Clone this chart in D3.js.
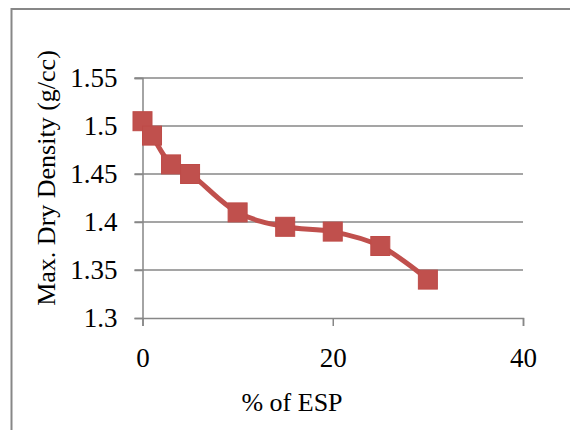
<!DOCTYPE html>
<html>
<head>
<meta charset="utf-8">
<script src="https://cdn.jsdelivr.net/npm/d3@7"></script>
<style>
  body { margin: 0; background: #fff; }
  text { font-family: "Liberation Serif", "Times New Roman", serif; fill: #000; }
</style>
</head>
<body>
<div id="chart"></div>
<script>
// ESP content (%) vs max. dry density
const esp = [0, 1, 3, 5, 10, 15, 20, 25, 30];
const density = [1.505, 1.49, 1.46, 1.45, 1.41, 1.395, 1.39, 1.375, 1.34];
const xTicks = [0, 20, 40];
const yTicks = [1.3, 1.35, 1.4, 1.45, 1.5, 1.55];

const width = 570;
const height = 430;
const margin = {top: 78, right: 47, bottom: 112, left: 142.5};

const svg = d3.select('#chart').append('svg')
  .attr('width', width)
  .attr('height', height);

// outer chart border (runs off the picture at right and bottom)
svg.append('rect')
  .attr('x', 11.5)
  .attr('y', 9)
  .attr('width', 600)
  .attr('height', 500)
  .attr('fill', 'none')
  .attr('stroke', '#878787')
  .attr('stroke-width', 2);

const x = d3.scaleLinear()
  .domain([0, 40])
  .range([margin.left, width - margin.right]);

const y = d3.scaleLinear()
  .domain([1.3, 1.55])
  .range([height - margin.bottom, margin.top]);

// gridlines
svg.append('g')
  .selectAll('line')
  .data(yTicks.slice(1))
  .enter()
  .append('line')
  .attr('x1', x(0) - 8)
  .attr('x2', x(40))
  .attr('y1', d => y(d))
  .attr('y2', d => y(d))
  .attr('stroke', '#878787')
  .attr('stroke-width', 1.5);

// y axis
const yAxis = svg.append('g')
  .attr('transform', `translate(${x(0)},0)`)
  .call(d3.axisLeft(y).tickValues(yTicks).tickSize(8).tickPadding(17)
    .tickFormat(d => d3.format('')(+d.toFixed(2))));

// x axis
const xAxis = svg.append('g')
  .attr('transform', `translate(0,${y(1.3)})`)
  .call(d3.axisBottom(x).tickValues(xTicks).tickSize(8).tickPadding(22));

[xAxis, yAxis].forEach(a => {
  a.attr('font-family', null).attr('font-size', null);
  a.select('.domain').attr('stroke', '#878787').attr('stroke-width', 1.5);
  a.selectAll('.tick line').attr('stroke', '#878787').attr('stroke-width', 1.5);
  a.selectAll('.tick text')
    .style('font-family', '"Liberation Serif", serif')
    .style('font-size', '27px')
    .attr('fill', '#000');
});

// series
const pts = esp.map((e, i) => [e, density[i]]);

svg.append('path')
  .datum(pts)
  .attr('d', d3.line()
    .x(d => x(d[0]))
    .y(d => y(d[1]))
    .curve(d3.curveCatmullRom.alpha(0.5)))
  .attr('fill', 'none')
  .attr('stroke', '#c0504d')
  .attr('stroke-width', 5)
  .attr('stroke-linejoin', 'round');

const m = 19;
svg.append('g')
  .selectAll('rect')
  .data(pts)
  .enter()
  .append('rect')
  .attr('x', d => x(d[0]) - m / 2)
  .attr('y', d => y(d[1]) - m / 2)
  .attr('width', m)
  .attr('height', m)
  .attr('fill', '#c0504d')
  .attr('stroke', '#be4b48')
  .attr('stroke-width', 1);

// axis titles
svg.append('text')
  .attr('x', 292)
  .attr('y', 411)
  .attr('text-anchor', 'middle')
  .style('font-size', '26px')
  .text('% of ESP');

svg.append('text')
  .attr('transform', 'translate(55,178) rotate(-90)')
  .attr('text-anchor', 'middle')
  .style('font-size', '26px')
  .text('Max. Dry Density (g/cc)');
</script>
</body>
</html>
